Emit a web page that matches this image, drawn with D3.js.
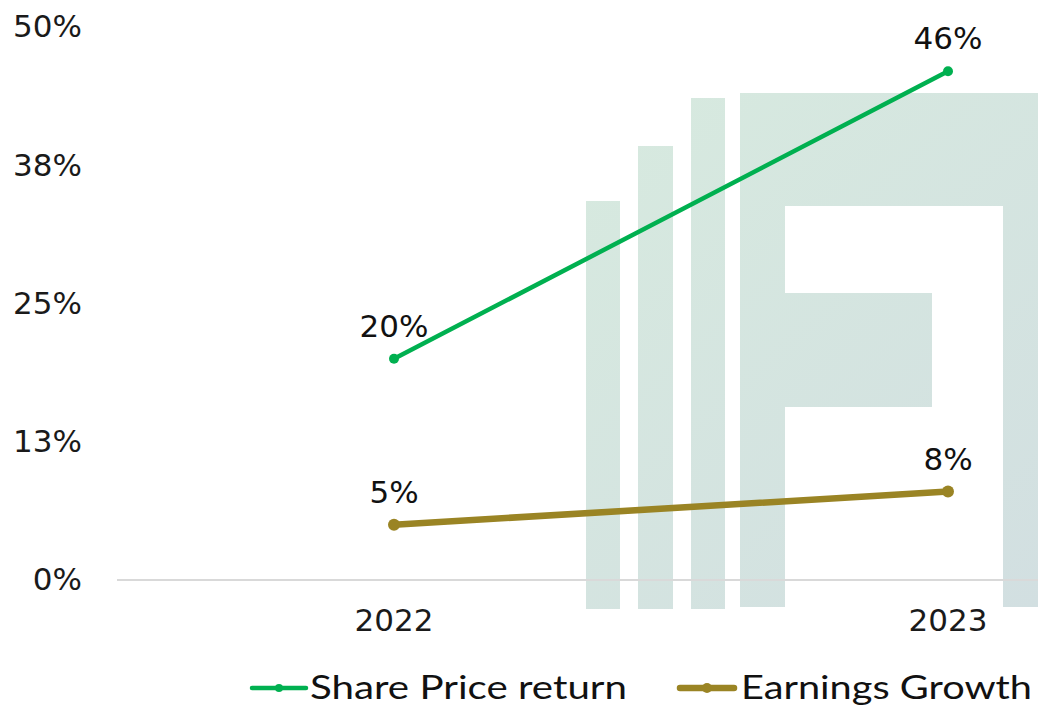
<!DOCTYPE html>
<html>
<head>
<meta charset="utf-8">
<script src="https://cdn.jsdelivr.net/npm/d3@7"></script>
<style>
  html, body { margin: 0; padding: 0; background: #fff; overflow: hidden; }
  svg { display: block; font-family: "DejaVu Sans", sans-serif; }
</style>
</head>
<body>
<svg id="chart"></svg>
<script>
const width = 1038;
const height = 706;

// data
const years = ["2022", "2023"];
const sharePrice = [20, 46];
const earnings = [5, 8];
const yTicks = [0, 12.5, 25, 37.5, 50];
const yTickLabels = ["0%", "13%", "25%", "38%", "50%"];
const seriesNames = ["Share Price return", "Earnings Growth"];
const seriesColors = ["#00b050", "#9a8424"];

const svg = d3.select("#chart")
              .attr("width", width)
              .attr("height", height);

// plot area runs past the right edge (image is cropped)
const xScale = d3.scaleBand()
                 .domain(years)
                 .range([117, 1225]);
const yScale = d3.scaleLinear()
                 .domain([0, 50])
                 .range([580, 27]);

// background watermark logo
const defs = svg.append("defs");
const grad = defs.append("linearGradient")
                 .attr("id", "wm")
                 .attr("gradientUnits", "userSpaceOnUse")
                 .attr("x1", 586).attr("y1", 93)
                 .attr("x2", 1038).attr("y2", 609);
grad.append("stop").attr("offset", "0%").attr("stop-color", "#d7eadf");
grad.append("stop").attr("offset", "100%").attr("stop-color", "#d2dfe1");

const wm = svg.append("g").attr("fill", "url(#wm)");
[[586, 201, 34, 408], [638, 146, 35, 463], [691, 98, 34, 511]].forEach(r => {
  wm.append("rect").attr("x", r[0]).attr("y", r[1]).attr("width", r[2]).attr("height", r[3]);
});
wm.append("path")
  .attr("d", "M740,93 H1040 V607 H1003 V206 H785 V293 H932 V407 H785 V607 H740 Z");

// baseline grid
svg.append("line")
   .attr("x1", 117).attr("x2", width)
   .attr("y1", yScale(0)).attr("y2", yScale(0))
   .attr("stroke", "#d9d9d9")
   .attr("stroke-width", 2);

// y axis labels
const yAxis = d3.axisLeft(yScale)
                .tickValues(yTicks)
                .tickFormat((d, i) => yTickLabels[i])
                .tickSize(0)
                .tickPadding(0);
const yG = svg.append("g")
              .attr("transform", "translate(82,0)")
              .call(yAxis);
yG.select(".domain").remove();
yG.selectAll("text")
  .attr("font-size", 31)
  .attr("fill", "#1a1a1a")
  .attr("font-family", "DejaVu Sans, sans-serif");

// x axis labels
const xAxis = d3.axisBottom(xScale).tickSize(0).tickPadding(0);
const xG = svg.append("g")
              .attr("transform", "translate(0,609)")
              .call(xAxis);
xG.select(".domain").remove();
xG.selectAll("text")
  .attr("font-size", 31)
  .attr("fill", "#1a1a1a")
  .attr("font-family", "DejaVu Sans, sans-serif");

const cx = d => xScale(d) + xScale.bandwidth() / 2;

const series = [
  { values: sharePrice, color: seriesColors[0], w: 4.5, r: 5 },
  { values: earnings, color: seriesColors[1], w: 6.5, r: 6 }
];

const line = d3.line()
               .x((d, i) => cx(years[i]))
               .y(d => yScale(d));

series.forEach(s => {
  svg.append("path")
     .datum(s.values)
     .attr("fill", "none")
     .attr("stroke", s.color)
     .attr("stroke-width", s.w)
     .attr("stroke-linecap", "round")
     .attr("d", line);

  svg.selectAll(null)
     .data(s.values)
     .enter()
     .append("circle")
     .attr("cx", (d, i) => cx(years[i]))
     .attr("cy", d => yScale(d))
     .attr("r", s.r)
     .attr("fill", s.color);

  svg.selectAll(null)
     .data(s.values)
     .enter()
     .append("text")
     .attr("x", (d, i) => cx(years[i]))
     .attr("y", d => yScale(d) - 22)
     .attr("text-anchor", "middle")
     .attr("font-size", 31)
     .attr("fill", "#111")
     .text(d => d + "%");
});

// legend
const legend = [
  { x: 252, tx: 310, tw: 317 },
  { x: 680, tx: 741, tw: 291 }
];
legend.forEach((l, i) => {
  const g = svg.append("g");
  g.append("line")
   .attr("x1", l.x).attr("x2", l.x + 54)
   .attr("y1", 688).attr("y2", 688)
   .attr("stroke", seriesColors[i])
   .attr("stroke-width", series[i].w)
   .attr("stroke-linecap", "round");
  g.append("circle")
   .attr("cx", l.x + 27).attr("cy", 688)
   .attr("r", series[i].r - 1)
   .attr("fill", seriesColors[i]);
  g.append("text")
   .attr("x", l.tx).attr("y", 699)
   .attr("font-size", 32)
   .attr("font-family", "Lato, sans-serif")
   .attr("fill", "#111")
   .attr("textLength", l.tw)
   .attr("lengthAdjust", "spacingAndGlyphs")
   .text(seriesNames[i]);
});
</script>
</body>
</html>
